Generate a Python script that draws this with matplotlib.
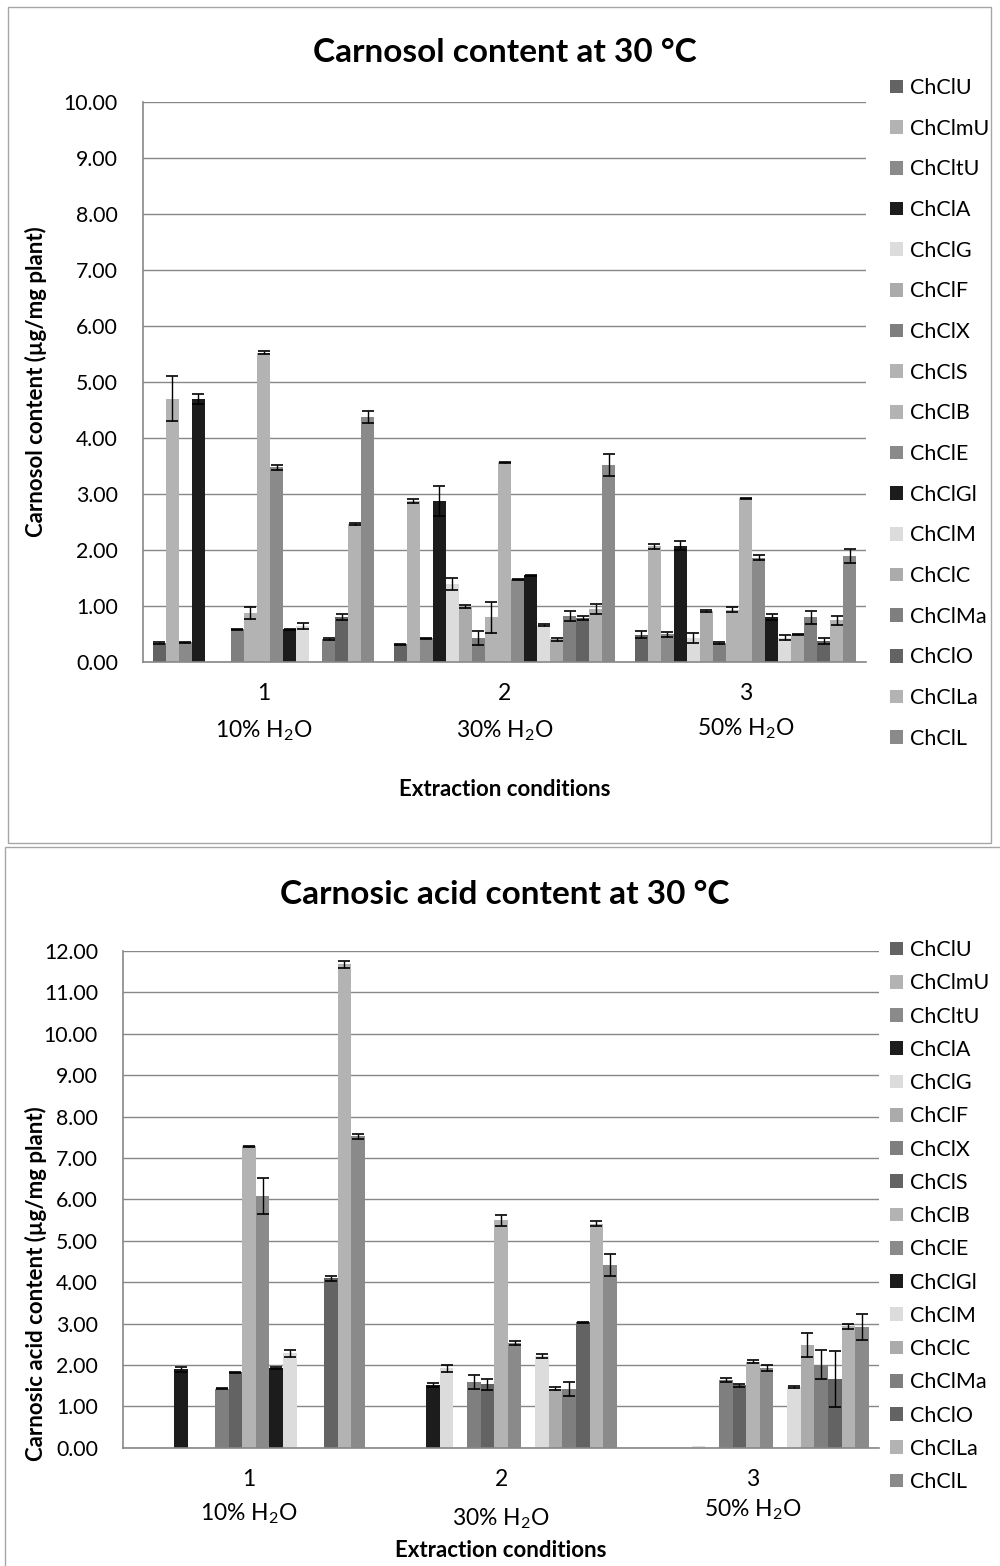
import matplotlib
matplotlib.use("Agg")
from matplotlib import pyplot as plt
from matplotlib.patches import Rectangle
import numpy as np

plt.rcParams['font.family'] = ['Lato', 'DejaVu Sans']
plt.rcParams['mathtext.fontset'] = 'custom'
plt.rcParams['mathtext.rm'] = 'Lato'
plt.rcParams['mathtext.it'] = 'Lato:italic'
plt.rcParams['mathtext.bf'] = 'Lato:bold'

# Deep eutectic solvents (choline chloride based)
solvents = ['ChClU', 'ChClmU', 'ChCltU', 'ChClA', 'ChClG', 'ChClF', 'ChClX', 'ChClS',
            'ChClB', 'ChClE', 'ChClGl', 'ChClM', 'ChClC', 'ChClMa', 'ChClO', 'ChClLa', 'ChClL']
conditions = ['1', '2', '3']
water = ['10% H$_2$O', '30% H$_2$O', '50% H$_2$O']

# Carnosol (ug/mg plant) and standard deviations per water content
carnosol_10 = [0.33, 4.70, 0.35, 4.69, 0, 0, 0.58, 0.87, 5.52, 3.47, 0.58, 0.64, 0, 0.41, 0.80, 2.46, 4.37]
carnosol_10_sd = [0.02, 0.40, 0.01, 0.09, 0, 0, 0.01, 0.10, 0.02, 0.04, 0.01, 0.06, 0, 0.02, 0.06, 0.02, 0.10]
carnosol_30 = [0.31, 2.87, 0.42, 2.87, 1.39, 0.99, 0.42, 0.79, 3.56, 1.47, 1.54, 0.66, 0.40, 0.81, 0.78, 0.94, 3.51]
carnosol_30_sd = [0.01, 0.04, 0.01, 0.27, 0.11, 0.03, 0.12, 0.27, 0.01, 0.01, 0.01, 0.02, 0.03, 0.09, 0.03, 0.09, 0.20]
carnosol_50 = [0.48, 2.06, 0.49, 2.07, 0.42, 0.90, 0.33, 0.93, 2.92, 1.86, 0.80, 0.43, 0.48, 0.79, 0.37, 0.74, 1.89]
carnosol_50_sd = [0.06, 0.04, 0.04, 0.08, 0.09, 0.02, 0.02, 0.04, 0.01, 0.05, 0.05, 0.04, 0.01, 0.12, 0.05, 0.08, 0.12]

# Carnosic acid (ug/mg plant) and standard deviations
carnosic_10 = [0, 0, 0, 1.89, 0, 0, 1.43, 1.82, 7.28, 6.08, 1.93, 2.28, 0, 0, 4.09, 11.68, 7.52]
carnosic_10_sd = [0, 0, 0, 0.05, 0, 0, 0.01, 0.02, 0.02, 0.44, 0.02, 0.08, 0, 0, 0.06, 0.08, 0.05]
carnosic_30 = [0, 0, 0, 1.51, 1.92, 0, 1.59, 1.53, 5.49, 2.52, 0, 2.22, 1.43, 1.42, 3.03, 5.41, 4.42]
carnosic_30_sd = [0, 0, 0, 0.05, 0.08, 0, 0.16, 0.13, 0.14, 0.05, 0, 0.05, 0.03, 0.16, 0.01, 0.06, 0.26]
carnosic_50 = [0, 0, 0, 0, 0.03, 0, 1.64, 1.51, 2.08, 1.93, 0, 1.47, 2.48, 2.01, 1.66, 2.93, 2.92]
carnosic_50_sd = [0, 0, 0, 0, 0, 0, 0.05, 0.04, 0.04, 0.08, 0, 0.03, 0.29, 0.35, 0.68, 0.06, 0.31]

# grey shades for each solvent
colors_top = ['#636363', '#b3b3b3', '#8a8a8a', '#1c1c1c', '#dcdcdc', '#ababab', '#7f7f7f', '#b3b3b3',
              '#b3b3b3', '#8a8a8a', '#1c1c1c', '#dcdcdc', '#ababab', '#7f7f7f', '#636363', '#b3b3b3', '#8a8a8a']
colors_bottom = ['#636363', '#b3b3b3', '#8a8a8a', '#1c1c1c', '#dcdcdc', '#ababab', '#7f7f7f', '#636363',
                 '#b3b3b3', '#8a8a8a', '#1c1c1c', '#dcdcdc', '#ababab', '#7f7f7f', '#636363', '#b3b3b3', '#8a8a8a']

fig = plt.figure(figsize=(10, 15.66), dpi=100)
H = 1566.0

# panel frames
fig.patches.append(Rectangle((8/1000, 1-843/H), 983/1000, 836/H, transform=fig.transFigure,
                             fill=False, edgecolor='#a6a6a6', lw=1))
fig.patches.append(Rectangle((5/1000, -0.01), 1.0, 1-847/H + 0.01, transform=fig.transFigure,
                             fill=False, edgecolor='#a6a6a6', lw=1))


def bar_chart(ax, series, sds, colors, ymax, title, title_y, ylabel, label_y, leg_top, leg_space):
    vals = np.array(series).T   # solvents x conditions
    errs = np.array(sds).T
    n = len(solvents)
    w = 1 / (n + 1.5)
    x = np.arange(len(conditions))
    handles = []
    for j in range(n):
        pos = x + (j - (n - 1) / 2) * w
        h = ax.bar(pos, vals[j], w, color=colors[j], edgecolor='none', zorder=2)
        handles.append(h)
        m = vals[j] > 0.05
        ax.errorbar(pos[m], vals[j][m], yerr=errs[j][m], fmt='none', ecolor='black',
                    elinewidth=1, capsize=4.2, capthick=1.2, zorder=3)
    ax.set_xlim(-0.5, 2.5)
    ax.set_ylim(0, ymax)
    ax.set_yticks(np.arange(0, ymax + 1))
    ax.set_yticklabels(['%.2f' % v for v in np.arange(0, ymax + 1)], fontsize=15.3)
    ax.set_xticks([])
    ax.grid(axis='y', color='#878787', lw=1, zorder=0)
    ax.set_axisbelow(True)
    for s in ['top', 'right']:
        ax.spines[s].set_visible(False)
    for s in ['left', 'bottom']:
        ax.spines[s].set_color('#878787')
        ax.spines[s].set_linewidth(1.2)
    ax.tick_params(axis='y', length=0, pad=18)
    ax.set_ylabel(ylabel, fontsize=16, fontweight='bold')
    fig.text(0.505, 1 - title_y / H, title, fontsize=24, fontweight='bold',
             ha='center', va='center')
    for i in range(len(conditions)):
        ax.text(x[i], label_y[0], conditions[i], transform=ax.get_xaxis_transform(),
                ha='center', va='center', fontsize=16.5)
        ax.text(x[i], label_y[1][i], water[i], transform=ax.get_xaxis_transform(),
                ha='center', va='center', fontsize=16.5)
    ax.legend(handles, solvents, loc='upper left', bbox_to_anchor=(890/1000, leg_top),
              bbox_transform=fig.transFigure, frameon=False, fontsize=15.5,
              handlelength=0.6, handleheight=0.6, handletextpad=0.35,
              labelspacing=leg_space, borderpad=0, borderaxespad=0)
    ax.set_xlabel('Extraction conditions', fontsize=16, fontweight='bold', labelpad=0)


# Carnosol
ax1 = fig.add_axes([143/1000, 1-661.7/H, 723/1000, 560/H])
bar_chart(ax1, [carnosol_10, carnosol_30, carnosol_50],
          [carnosol_10_sd, carnosol_30_sd, carnosol_50_sd], colors_top, 10,
          'Carnosol content at 30 °C', 52, 'Carnosol content (µg/mg plant)',
          (-0.056, [-0.124, -0.124, -0.12]), 1-78/H, 0.96)
ax1.yaxis.set_label_coords(-0.133, 0.5)
ax1.xaxis.set_label_coords(0.5, -0.209)

# Carnosic acid
ax2 = fig.add_axes([123/1000, 1-1447.7/H, 756/1000, 496.7/H])
bar_chart(ax2, [carnosic_10, carnosic_30, carnosic_50],
          [carnosic_10_sd, carnosic_30_sd, carnosic_50_sd], colors_bottom, 12,
          'Carnosic acid content at 30 °C', 895, 'Carnosic acid content (µg/mg plant)',
          (-0.065, [-0.1335, -0.1435, -0.1255]), 1-940/H, 0.616)
ax2.yaxis.set_label_coords(-0.1005, 0.33)
ax2.xaxis.set_label_coords(0.5, -0.186)

fig.savefig('out.png', dpi=100)
